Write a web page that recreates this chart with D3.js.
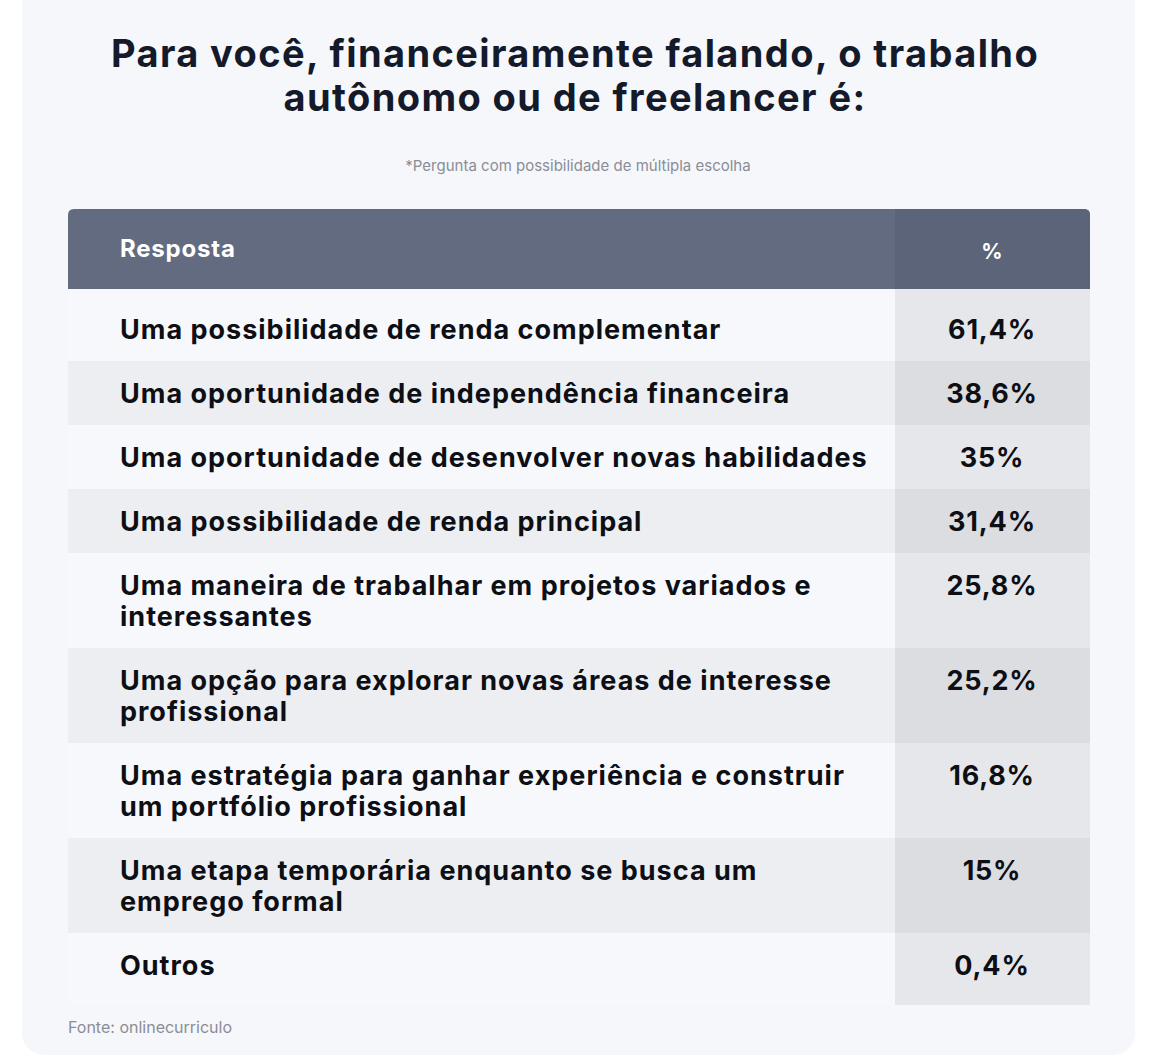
<!DOCTYPE html>
<html>
<head>
<meta charset="utf-8">
<script src="https://cdn.jsdelivr.net/npm/d3@7"></script>
<style>
  body { margin: 0; background: #fff; font-family: Inter, "Noto Sans", sans-serif; }
</style>
</head>
<body>
<svg id="chart" width="1170" height="1060"></svg>
<script>
const titleLines = ["Para você, financeiramente falando, o trabalho", "autônomo ou de freelancer é:"];
const subtitle = "*Pergunta com possibilidade de múltipla escolha";
const headers = ["Resposta", "%"];
const answers = [
  ["Uma possibilidade de renda complementar"],
  ["Uma oportunidade de independência financeira"],
  ["Uma oportunidade de desenvolver novas habilidades"],
  ["Uma possibilidade de renda principal"],
  ["Uma maneira de trabalhar em projetos variados e", "interessantes"],
  ["Uma opção para explorar novas áreas de interesse", "profissional"],
  ["Uma estratégia para ganhar experiência e construir", "um portfólio profissional"],
  ["Uma etapa temporária enquanto se busca um", "emprego formal"],
  ["Outros"]
];
const values = ["61,4%", "38,6%", "35%", "31,4%", "25,8%", "25,2%", "16,8%", "15%", "0,4%"];
const source = "Fonte: onlinecurriculo";

const svg = d3.select("#chart");
svg.append("rect").attr("x", 22).attr("y", -20).attr("width", 1113).attr("height", 1075)
  .attr("rx", 22).attr("fill", "#f6f7fb");

svg.append("g").selectAll("text").data(titleLines).enter().append("text")
  .attr("x", 575).attr("y", (d, i) => 67 + i * 44)
  .attr("text-anchor", "middle").attr("font-size", 38).attr("font-weight", 700)
  .attr("letter-spacing", 1.4).attr("fill", "#141a2a").text(d => d);

svg.append("text").attr("x", 578).attr("y", 171).attr("text-anchor", "middle")
  .attr("font-size", 15).attr("fill", "#8a8d96").text(subtitle);

const x0 = 68, x1 = 895, x2 = 1090;
const headTop = 209, headBottom = 289;

// header
svg.append("path")
  .attr("d", `M${x0},${headBottom}V${headTop + 6}Q${x0},${headTop} ${x0 + 6},${headTop}H${x2 - 6}Q${x2},${headTop} ${x2},${headTop + 6}V${headBottom}Z`)
  .attr("fill", "#636b81");
svg.append("path")
  .attr("d", `M${x1},${headBottom}V${headTop}H${x2 - 6}Q${x2},${headTop} ${x2},${headTop + 6}V${headBottom}Z`)
  .attr("fill", "#5b6478");
svg.append("text").attr("x", 120).attr("y", 257).attr("font-size", 24).attr("font-weight", 700)
  .attr("letter-spacing", 0.8).attr("fill", "#fff").text(headers[0]);
svg.append("text").attr("x", 992).attr("y", 259).attr("text-anchor", "middle").attr("font-size", 21)
  .attr("font-weight", 700).attr("fill", "#fff").text(headers[1]);

// rows
const lineH = 31;
let y = headBottom;
const rows = answers.map((a, i) => {
  const extra = i === 0 || i === answers.length - 1 ? 8 : 0;
  const h = 33 + lineH * a.length + extra;
  const r = { lines: a, value: values[i], top: y, h, i, off: i === 0 ? 50 : 42 };
  y += h;
  return r;
});

const g = svg.append("g").selectAll("g").data(rows).enter().append("g")
  .attr("transform", d => `translate(0,${d.top})`);
g.append("rect").attr("x", x0).attr("width", x1 - x0).attr("height", d => d.h)
  .attr("fill", d => d.i % 2 ? "#eceef2" : "#f7f8fc");
g.append("rect").attr("x", x1).attr("width", x2 - x1).attr("height", d => d.h)
  .attr("fill", d => d.i % 2 ? "#dcdde1" : "#e6e7eb");
g.each(function(d) {
  d3.select(this).selectAll("text.lbl").data(d.lines).enter().append("text")
    .attr("class", "lbl").attr("x", 120).attr("y", (l, k) => d.off + k * lineH)
    .attr("font-size", 27).attr("font-weight", 700).attr("letter-spacing", 1)
    .attr("fill", "#0d0f14").text(l => l);
});
g.append("text").attr("x", 992).attr("y", d => d.off).attr("text-anchor", "middle")
  .attr("font-size", 27).attr("font-weight", 700).attr("letter-spacing", 0.8)
  .attr("fill", "#0d0f14").text(d => d.value);

svg.append("text").attr("x", 68).attr("y", 1033).attr("font-size", 16).attr("fill", "#8a8d96").text(source);
</script>
</body>
</html>
